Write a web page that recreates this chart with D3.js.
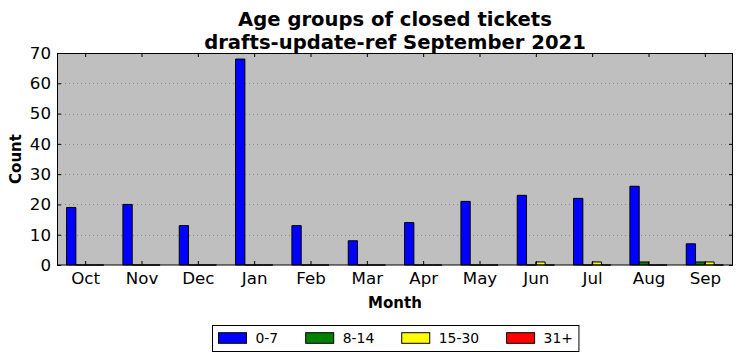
<!DOCTYPE html>
<html>
<head>
<meta charset="utf-8">
<script src="https://cdn.jsdelivr.net/npm/d3@7"></script>
<style>
  body { margin: 0; background: #fff; }
  text { font-family: "DejaVu Sans", sans-serif; fill: #000; }
</style>
</head>
<body>
<svg width="742" height="361"></svg>
<script>
// data
var months = ["Oct", "Nov", "Dec", "Jan", "Feb", "Mar", "Apr", "May", "Jun", "Jul", "Aug", "Sep"];
var groups = ["0-7", "8-14", "15-30", "31+"];
var colors = ["#0000ff", "#008000", "#ffff00", "#ff0000"];
var age0to7 = [19, 20, 13, 68, 13, 8, 14, 21, 23, 22, 26, 7];
var age8to14 = [0, 0, 0, 0, 0, 0, 0, 0, 0, 0, 1, 1];
var age15to30 = [0, 0, 0, 0, 0, 0, 0, 0, 1, 1, 0, 1];
var age31plus = [0, 0, 0, 0, 0, 0, 0, 0, 0, 0, 0, 0];
var yTicks = [0, 10, 20, 30, 40, 50, 60, 70];
var series = [age0to7, age8to14, age15to30, age31plus];

var svg = d3.select("svg");
var padding = { top: 53, right: 9, bottom: 96, left: 57 };
var width = +svg.attr("width");
var height = +svg.attr("height");
var barW = 0.165;

var xScale = d3.scaleLinear()
  .domain([-0.5, 11.5])
  .range([padding.left, width - padding.right]);

var yScale = d3.scaleLinear()
  .domain([0, 70])
  .range([height - padding.bottom, padding.top]);

// background
svg.append("rect")
  .attr("x", padding.left)
  .attr("y", padding.top)
  .attr("width", xScale.range()[1] - padding.left)
  .attr("height", yScale(0) - padding.top)
  .attr("fill", "#bfbfbf");

// grid
svg.append("g")
  .selectAll("line")
  .data(yTicks.slice(1, -1))
  .join("line")
    .attr("x1", padding.left)
    .attr("x2", xScale.range()[1])
    .attr("y1", d => Math.round(yScale(d)) + 0.5)
    .attr("y2", d => Math.round(yScale(d)) + 0.5)
    .attr("stroke", "#8a8a8a")
    .attr("stroke-width", 1)
    .attr("stroke-dasharray", "1,3");

// bars
series.forEach((vals, k) => {
  svg.append("g")
    .selectAll("path")
    .data(vals)
    .join("path")
      .attr("d", (v, i) => {
        var x0 = xScale(i + (k - 2) * barW), x1 = xScale(i + (k - 1) * barW);
        var y0 = yScale(0), y1 = yScale(v);
        return `M${x0},${y0}H${x1}V${y1}H${x0}Z`;
      })
      .attr("fill", colors[k])
      .attr("stroke", "#000")
      .attr("stroke-width", 1);
});

// axes
var axBottom = svg.append("g")
  .attr("transform", `translate(0, ${yScale(0)})`)
  .call(d3.axisBottom(xScale)
    .tickValues(d3.range(12))
    .tickFormat(i => months[i])
    .tickSizeInner(-4)
    .tickSizeOuter(0)
    .tickPadding(7));

var axTop = svg.append("g")
  .attr("transform", `translate(0, ${padding.top})`)
  .call(d3.axisTop(xScale)
    .tickValues(d3.range(12))
    .tickFormat("")
    .tickSizeInner(-4)
    .tickSizeOuter(0));

var axLeft = svg.append("g")
  .attr("transform", `translate(${padding.left}, 0)`)
  .call(d3.axisLeft(yScale)
    .tickValues(yTicks)
    .tickSizeInner(-4)
    .tickSizeOuter(0)
    .tickPadding(6));

var axRight = svg.append("g")
  .attr("transform", `translate(${xScale.range()[1]}, 0)`)
  .call(d3.axisRight(yScale)
    .tickValues(yTicks)
    .tickFormat("")
    .tickSizeInner(-4)
    .tickSizeOuter(0));

[axBottom, axTop, axLeft, axRight].forEach(g => {
  g.select(".domain").remove();
  g.selectAll("line").attr("stroke", "#000");
  g.selectAll("text")
    .style("font-family", "DejaVu Sans")
    .style("font-size", "16.67px")
    .attr("fill", "#000");
});

// frame
svg.append("rect")
  .attr("x", padding.left + 0.5)
  .attr("y", padding.top + 0.5)
  .attr("width", xScale.range()[1] - padding.left - 1)
  .attr("height", yScale(0) - padding.top - 0.5)
  .attr("fill", "none")
  .attr("stroke", "#000")
  .attr("stroke-width", 1);

// titles
var cx = (padding.left + xScale.range()[1]) / 2;
var title = svg.append("text")
  .attr("x", cx)
  .attr("text-anchor", "middle")
  .style("font-size", "19.6px")
  .style("font-weight", "bold");
title.append("tspan").attr("x", cx).attr("y", 26).text("Age groups of closed tickets");
title.append("tspan").attr("x", cx).attr("y", 48.5).text("drafts-update-ref September 2021");

svg.append("text")
  .attr("x", cx)
  .attr("y", 307.5)
  .attr("text-anchor", "middle")
  .style("font-size", "15px")
  .style("font-weight", "bold")
  .text("Month");

svg.append("text")
  .attr("transform", `translate(21, ${(padding.top + yScale(0)) / 2}) rotate(-90)`)
  .attr("text-anchor", "middle")
  .style("font-size", "15px")
  .style("font-weight", "bold")
  .text("Count");

// legend
var legend = svg.append("g");
var patchW = 28, patchH = 10.6, gap = 9, colSp = 27.5, boxPad = 6;
var labels = legend.selectAll("text")
  .data(groups)
  .join("text")
    .style("font-size", "13.9px")
    .attr("dy", "0.35em")
    .text(d => d);
var widths = [];
labels.each(function() { widths.push(this.getComputedTextLength()); });
var inner = d3.sum(widths) + groups.length * (patchW + gap) + (groups.length - 1) * colSp;
var boxW = inner + 2 * boxPad;
var boxX = Math.round(cx - boxW / 2) + 0.5;
legend.insert("rect", "text")
  .attr("x", boxX)
  .attr("y", 325.5)
  .attr("width", boxW)
  .attr("height", 26)
  .attr("fill", "#fff")
  .attr("stroke", "#000");
var pos = [];
var cur = boxX + boxPad;
widths.forEach(w => { pos.push(cur); cur += patchW + gap + w + colSp; });
legend.selectAll(".patch")
  .data(groups)
  .join("rect")
    .attr("class", "patch")
    .attr("x", (d, i) => pos[i])
    .attr("y", 332.7)
    .attr("width", patchW)
    .attr("height", patchH)
    .attr("fill", (d, i) => colors[i])
    .attr("stroke", "#000");
labels
  .attr("x", (d, i) => pos[i] + patchW + gap)
  .attr("y", 338);
</script>
</body>
</html>
